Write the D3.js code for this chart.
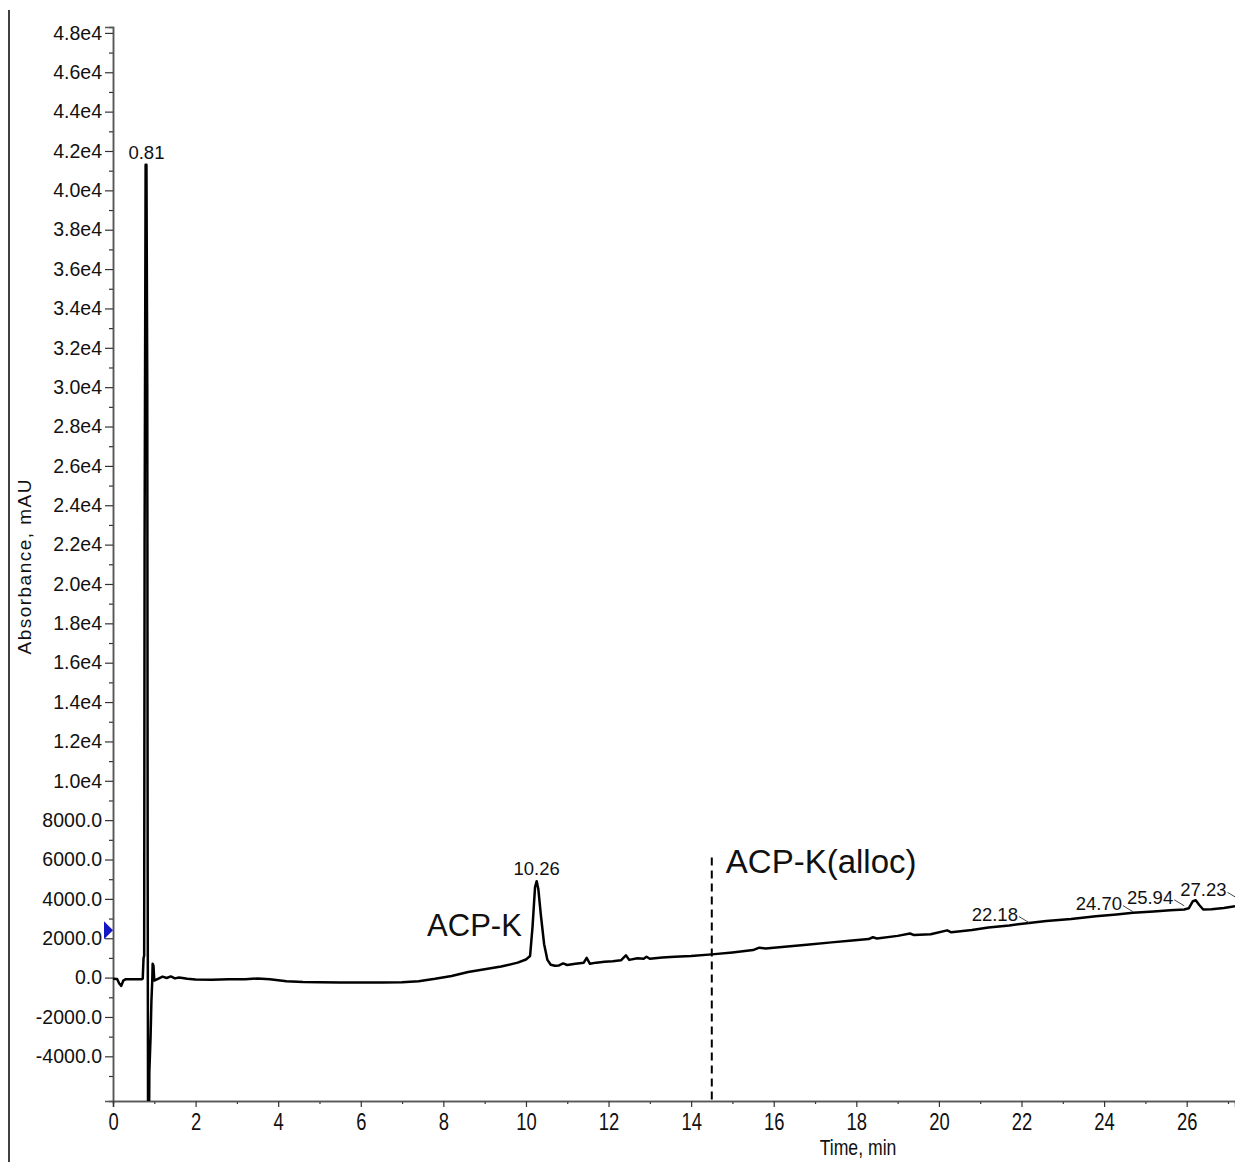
<!DOCTYPE html>
<html>
<head>
<meta charset="utf-8">
<script src="https://cdn.jsdelivr.net/npm/d3@7/dist/d3.min.js"></script>
<style>
  body { margin: 0; background: #fff; }
  text { font-family: "Liberation Sans", Arial, sans-serif; fill: #111; }
</style>
</head>
<body>
<div id="chart"></div>
<script>
// chromatogram trace (time in min, absorbance in mAU)
var times = [
  0.00, 0.10, 0.15, 0.20, 0.25, 0.30, 0.50, 0.70, 0.72, 0.74, 0.755, 0.765, 0.775, 0.79, 0.81,
  0.83, 0.84, 0.85, 0.87, 0.88, 0.89, 0.91, 0.93, 0.95, 0.96, 0.98, 1.00, 1.10, 1.20, 1.30,
  1.40, 1.50, 1.60, 1.80, 2.00, 2.40, 2.80, 3.20, 3.50, 3.80, 4.20, 4.60, 5.00, 5.50, 6.00,
  6.50, 7.00, 7.40, 7.80, 8.20, 8.60, 9.00, 9.40, 9.80, 10.00, 10.10, 10.16, 10.22, 10.26, 10.30,
  10.36, 10.44, 10.52, 10.60, 10.70, 10.80, 10.90, 11.00, 11.20, 11.40, 11.47, 11.55, 11.70, 11.90, 12.10,
  12.30, 12.42, 12.50, 12.70, 12.85, 12.92, 13.00, 13.30, 13.60, 14.00, 14.50, 15.00, 15.50, 15.65, 15.80,
  16.20, 16.80, 17.40, 17.90, 18.30, 18.40, 18.50, 19.00, 19.30, 19.40, 19.80, 20.20, 20.30, 20.80, 21.20,
  21.70, 22.18, 22.60, 23.20, 23.80, 24.30, 24.70, 25.20, 25.60, 25.94, 26.05, 26.15, 26.22, 26.30, 26.40,
  26.60, 26.90, 27.17
];
var absorbance = [
  -60, -70, -300, -420, -150, -90, -80, -80, -50, 1000, 1100, 22000, 29800, 41300, 41300,
  30000, 5000, -9000, -9000, -4800, -4200, -3000, -1200, -200, 700, 600, -150, -50, 50, -20,
  60, -40, 0, -60, -100, -110, -90, -90, -40, -80, -180, -220, -240, -250, -250,
  -250, -240, -180, -60, 80, 280, 420, 560, 760, 920, 1100, 2600, 4600, 4900, 4500,
  3200, 1700, 900, 650, 600, 620, 720, 640, 700, 760, 1000, 700, 760, 800, 830,
  880, 1130, 900, 980, 960, 1060, 960, 1020, 1060, 1100, 1180, 1280, 1400, 1520, 1480,
  1560, 1670, 1790, 1890, 1960, 2050, 1990, 2120, 2240, 2160, 2200, 2400, 2300, 2420, 2550,
  2650, 2780, 2870, 2980, 3120, 3210, 3300, 3360, 3420, 3460, 3520, 3880, 3930, 3700, 3460,
  3470, 3540, 3620
];

// axis ticks
var yMajorTicks = [-4000, -2000, 0, 2000, 4000, 6000, 8000, 10000, 12000, 14000, 16000, 18000, 20000,
  22000, 24000, 26000, 28000, 30000, 32000, 34000, 36000, 38000, 40000, 42000, 44000, 46000, 48000];
var xMajorTicks = [0, 2, 4, 6, 8, 10, 12, 14, 16, 18, 20, 22, 24, 26];

// peak labels
var bigPeakTimes = [0.81, 10.26];
var bigPeakLevels = [41300, 4900];
var smallPeakTimes = [22.18, 24.70, 25.94, 27.23];
var smallPeakLevels = [2900, 3450, 3750, 4130];

// annotations
var compoundNames = ["ACP-K", "ACP-K(alloc)"];
var compoundTimes = [9.9, 14.84];
var compoundLevels = [2100, 5300];
var cutTime = 14.5;
var cutTop = 6100;
var markerLevel = 2400;

var svgWidth = 1235;
var svgHeight = 1162;

var margin = {
    top: 27,
    left: 113,
    right: 0,
    bottom: 61
};

var Width = svgWidth - margin.left - margin.right;
var Height = svgHeight - margin.top - margin.bottom;

var svg = d3.select("#chart")
    .append("svg")
    .attr("width", svgWidth)
    .attr("height", svgHeight);

// squeeze text horizontally like the narrow font of the original
function narrow(sel, k) {
    sel.each(function() {
        var w = this.getComputedTextLength();
        d3.select(this)
            .attr("textLength", w * k)
            .attr("lengthAdjust", "spacingAndGlyphs");
    });
}

// left frame line
svg.append("line")
    .attr("x1", 9).attr("x2", 9)
    .attr("y1", 10).attr("y2", svgHeight)
    .attr("stroke", "#000")
    .attr("stroke-width", 1.5);

var chartGroup = svg.append("g")
    .attr("transform", `translate(${margin.left}, ${margin.top})`);

var xScale = d3.scaleLinear().domain([0, 27.17]).range([0, Width]);
var yScale = d3.scaleLinear().domain([-6270, 48300]).range([Height, 0]);

function yFormat(v) {
    if (Math.abs(v) >= 10000) return (v / 10000).toFixed(1) + "e4";
    return v.toFixed(1);
}

// y axis
var yMinor = chartGroup.append("g")
    .call(d3.axisLeft(yScale).tickValues(d3.range(-5000, 48000, 2000)).tickSize(4).tickFormat(""));
var yAxis = chartGroup.append("g")
    .call(d3.axisLeft(yScale).tickValues(yMajorTicks).tickSize(8).tickPadding(3).tickFormat(yFormat));
yAxis.selectAll("text")
    .attr("font-size", 19.5)
    .attr("font-family", "Liberation Sans, Arial, sans-serif");

// x axis
var xMinor = chartGroup.append("g")
    .attr("transform", `translate(0, ${Height})`)
    .call(d3.axisBottom(xScale).tickValues(d3.range(1, 28, 2)).tickSize(3).tickFormat(""));
var xAxis = chartGroup.append("g")
    .attr("transform", `translate(0, ${Height})`)
    .call(d3.axisBottom(xScale).tickValues(xMajorTicks).tickSize(6).tickPadding(7));
xAxis.selectAll("text")
    .attr("font-size", 23)
    .attr("font-family", "Liberation Sans, Arial, sans-serif")
    .call(narrow, 0.8);

chartGroup.selectAll(".domain").attr("stroke", "#555").attr("stroke-width", 1.5);
chartGroup.selectAll(".tick line").attr("stroke", "#333").attr("stroke-width", 1.2);

// axis titles
svg.append("text")
    .attr("x", 858)
    .attr("y", 1155)
    .attr("text-anchor", "middle")
    .attr("font-size", 21.5)
    .text("Time, min")
    .call(narrow, 0.82);

svg.append("text")
    .attr("transform", "translate(31, 567) rotate(-90)")
    .attr("text-anchor", "middle")
    .attr("font-size", 19)
    .attr("textLength", 175)
    .attr("lengthAdjust", "spacing")
    .text("Absorbance, mAU");

// trace
chartGroup.append("clipPath")
    .attr("id", "plotClip")
    .append("rect")
    .attr("width", Width)
    .attr("height", Height);

var traceData = times.map((t, i) => ({t: t, v: absorbance[i]}));

var line = d3.line()
    .x(d => xScale(d.t))
    .y(d => yScale(d.v));

chartGroup.append("path")
    .datum(traceData)
    .attr("clip-path", "url(#plotClip)")
    .attr("fill", "none")
    .attr("stroke", "#000")
    .attr("stroke-width", 2.5)
    .attr("stroke-linejoin", "round")
    .attr("d", line);

// cut marker (dashed)
chartGroup.append("line")
    .attr("x1", xScale(cutTime)).attr("x2", xScale(cutTime))
    .attr("y1", yScale(cutTop)).attr("y2", Height)
    .attr("stroke", "#000")
    .attr("stroke-width", 2)
    .attr("stroke-dasharray", "8,5");

// blue baseline marker
var my = yScale(markerLevel);
chartGroup.append("path")
    .attr("d", `M-9,${my - 9} L0,${my} L-9,${my + 9} Z`)
    .attr("fill", "#1515c8");

// big peak labels
chartGroup.selectAll(".bigLabel")
    .data(bigPeakTimes)
    .enter()
    .append("text")
    .attr("class", "bigLabel")
    .attr("x", d => xScale(d))
    .attr("y", (d, i) => yScale(bigPeakLevels[i]) - 6)
    .attr("text-anchor", "middle")
    .attr("font-size", 18.5)
    .text(d => d.toFixed(2));

// small peak labels with leaders
var smallGroup = chartGroup.append("g").attr("clip-path", "url(#plotClip)");
smallPeakTimes.forEach(function(t, i) {
    var px = xScale(t);
    var py = yScale(smallPeakLevels[i]);
    smallGroup.append("line")
        .attr("x1", px - 10).attr("y1", py - 4)
        .attr("x2", px).attr("y2", py + 2)
        .attr("stroke", "#444")
        .attr("stroke-width", 1);
    smallGroup.append("text")
        .attr("x", px - 11)
        .attr("y", py)
        .attr("text-anchor", "end")
        .attr("font-size", 18.5)
        .text(t.toFixed(2));
});

// compound annotations
chartGroup.append("text")
    .attr("x", xScale(compoundTimes[0]))
    .attr("y", yScale(compoundLevels[0]))
    .attr("text-anchor", "end")
    .attr("font-family", "Noto Sans, Open Sans, sans-serif")
    .attr("font-size", 31)
    .text(compoundNames[0]);

chartGroup.append("text")
    .attr("x", xScale(compoundTimes[1]))
    .attr("y", yScale(compoundLevels[1]))
    .attr("text-anchor", "start")
    .attr("font-family", "Noto Sans, Open Sans, sans-serif")
    .attr("font-size", 33)
    .text(compoundNames[1]);
</script>
</body>
</html>
